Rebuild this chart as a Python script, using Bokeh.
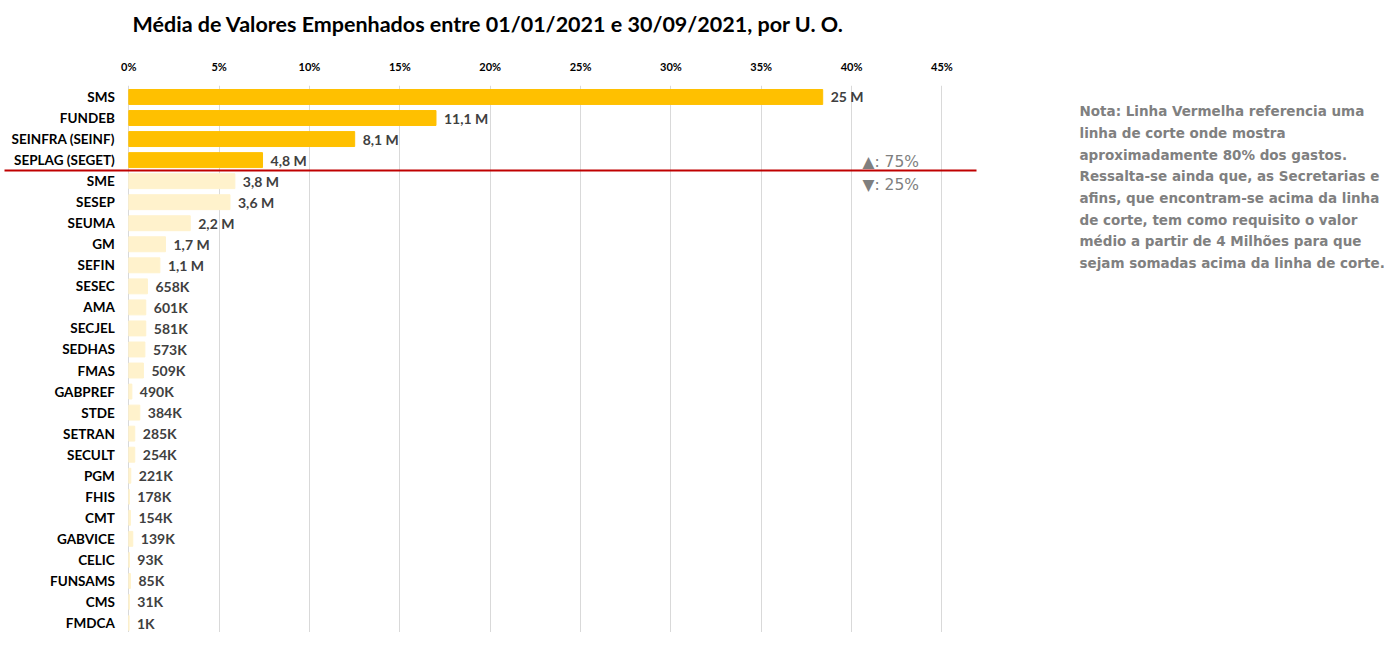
from bokeh.plotting import figure
from bokeh.models import Range1d, FixedTicker, PrintfTickFormatter, ColumnDataSource
from bokeh.core.properties import value
from bokeh.embed import file_html
from bokeh.resources import INLINE

# ---------------- data ----------------
categories = ["SMS", "FUNDEB", "SEINFRA (SEINF)", "SEPLAG (SEGET)", "SME", "SESEP",
              "SEUMA", "GM", "SEFIN", "SESEC", "AMA", "SECJEL", "SEDHAS", "FMAS",
              "GABPREF", "STDE", "SETRAN", "SECULT", "PGM", "FHIS", "CMT", "GABVICE",
              "CELIC", "FUNSAMS", "CMS", "FMDCA"]
share_pct = [38.4, 17.0, 12.5, 7.4, 5.87, 5.6, 3.4, 2.03, 1.72, 1.03, 0.94, 0.94,
             0.89, 0.81, 0.17, 0.61, 0.33, 0.33, 0.11, 0.03, 0.09, 0.22, 0.03,
             0.09, 0.03, 0.01]
value_labels = ["25 M", "11,1 M", "8,1 M", "4,8 M", "3,8 M", "3,6 M", "2,2 M", "1,7 M",
                "1,1 M", "658K", "601K", "581K", "573K", "509K", "490K", "384K",
                "285K", "254K", "221K", "178K", "154K", "139K", "93K", "85K", "31K", "1K"]
n_above_cut = 4
tick_values = [0, 5, 10, 15, 20, 25, 30, 35, 40, 45]
above_text = "\u25B2: 75%"
below_text = "\u25BC: 25%"
note_lines = ["Nota: Linha Vermelha referencia uma",
              "linha de corte onde mostra",
              "aproximadamente 80% dos gastos.",
              "Ressalta-se ainda que, as Secretarias e",
              "afins, que encontram-se acima da linha",
              "de corte, tem como requisito o valor",
              "médio a partir de 4 Milhões para que",
              "sejam somadas acima da linha de corte."]
title_text = "Média de Valores Empenhados entre 01/01/2021 e 30/09/2021, por U. O."

# ---------------- layout constants ----------------
W, H = 1384, 632
PX = 18.07            # pixels per percent point
ZERO_X = 128.3        # canvas x of 0%
ROW = 21.1            # pixels per row
FRAME_TOP = 83.5      # canvas y of frame top (title + axis panels)
FIRST_ROW_PX = 11.5   # pixels from frame top to first bar centre

x_start = -ZERO_X / PX
x_end = (W - ZERO_X) / PX
y_top = -FIRST_ROW_PX / ROW
y_bottom = y_top + (H - FRAME_TOP) / ROW

def px_to_row(canvas_y):
    return y_top + (canvas_y - FRAME_TOP) / ROW

def px_to_x(canvas_x):
    return (canvas_x - ZERO_X) / PX

n = len(categories)
rows = list(range(n))
colors = ["#FFC000" if i < n_above_cut else "#FFF2CC" for i in rows]

src = ColumnDataSource(dict(cat=categories, pct=share_pct, lab=value_labels,
                            y=rows, color=colors))

p = figure(width=W, height=H, output_backend="svg", toolbar_location=None,
           x_range=Range1d(x_start, x_end), y_range=Range1d(y_bottom, y_top),
           x_axis_location="above", min_border_left=0, min_border_right=0,
           min_border_bottom=0, min_border_top=0, tools="")
p.outline_line_color = None
p.background_fill_color = "white"
p.border_fill_color = "white"

# title
p.title.text = title_text
p.title.align = "left"
p.title.offset = 132
p.title.text_font = "Lato"
p.title.text_font_size = "21.5px"
p.title.text_font_style = "bold"
p.title.text_color = "#000000"
p.title.standoff = 16

# axes
p.yaxis.visible = False
ax = p.xaxis[0]
ax.ticker = FixedTicker(ticks=tick_values)
ax.formatter = PrintfTickFormatter(format="%d%%")
ax.axis_line_color = None
ax.major_tick_line_color = None
ax.minor_tick_line_color = None
ax.major_label_text_font = "Lato"
ax.major_label_text_font_style = "bold"
ax.major_label_text_font_size = "11px"
ax.major_label_text_color = "#000000"
ax.major_label_standoff = 7
# blank axis label used as a spacer between tick labels and title
ax.axis_label = " "
ax.axis_label_text_font_size = "2px"
ax.axis_label_standoff = 7

p.xgrid.ticker = FixedTicker(ticks=tick_values)
p.xgrid.grid_line_color = "#D9D9D9"
p.xgrid.grid_line_width = 1
p.ygrid.visible = False

# bars
p.hbar(y="y", left=0, right="pct", height=0.71, color="color", source=src)

# value labels
p.text(x="pct", y="y", text="lab", source=src, x_offset=8,
       text_align="left", text_baseline="middle",
       text_font=value("Lato"), text_font_style="bold",
       text_font_size="14px", text_color="#404040")

# category labels
p.text(x=px_to_x(ZERO_X - 14), y="y", text="cat", source=src,
       text_align="right", text_baseline="middle",
       text_font=value("Lato"), text_font_style="bold",
       text_font_size="13.5px", text_color="#000000")

# cut line
cut_y = n_above_cut - 0.5
p.segment(x0=[px_to_x(4)], y0=[cut_y], x1=[px_to_x(976)], y1=[cut_y],
          line_color="#C00000", line_width=2)

# cut shares
p.text(x=[px_to_x(862)] * 2, y=[cut_y - 9 / ROW, cut_y + 14 / ROW],
       text=[above_text, below_text], text_align="left", text_baseline="middle",
       text_font=value("DejaVu Sans"), text_font_size="15.5px", text_color="#7F7F7F")

# note
note_x = px_to_x(1079)
note_y0 = px_to_row(109.5)
p.text(x=[note_x] * len(note_lines),
       y=[note_y0 + i * 21.7 / ROW for i in range(len(note_lines))],
       text=note_lines, text_align="left", text_baseline="middle",
       text_font=value("DejaVu Sans"), text_font_style="bold",
       text_font_size="13.5px", text_color="#808080")

open("out.html", "w").write(file_html(p, INLINE))
